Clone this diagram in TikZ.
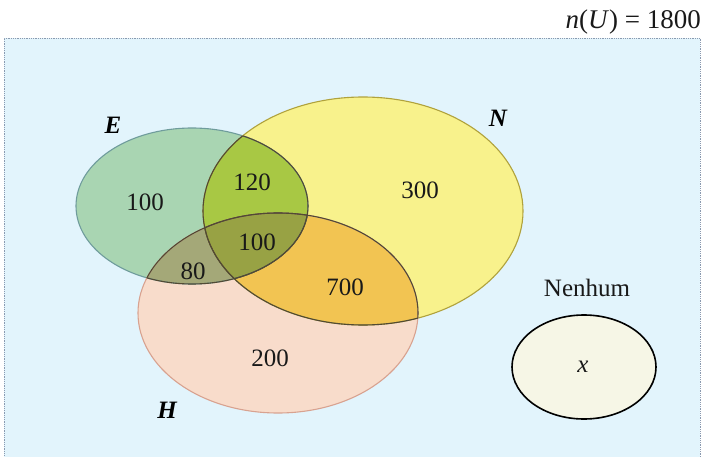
\documentclass[tikz,border=0pt]{standalone}
\usepackage{fontspec}
\setmainfont{Liberation Serif}
\usetikzlibrary{backgrounds}

% region colours
\definecolor{bgblue}{HTML}{E2F4FC}
\definecolor{frameline}{HTML}{8A9AB0}
\definecolor{efill}{HTML}{A9D5B2}
\definecolor{nfill}{HTML}{F8F28C}
\definecolor{hfill}{HTML}{F8DCCB}
\definecolor{enfill}{HTML}{A8C844}
\definecolor{ehfill}{HTML}{A4A878}
\definecolor{nhfill}{HTML}{F2C452}
\definecolor{enhfill}{HTML}{98A244}
\definecolor{eline}{HTML}{6F9C9C}
\definecolor{nline}{HTML}{B0A23C}
\definecolor{hline}{HTML}{D8A290}
\definecolor{lensline}{HTML}{524A34}
\definecolor{nonefill}{HTML}{F6F6E6}

\tikzset{
  numlabel/.style={font=\fontsize{25}{28}\selectfont, text=black!90, inner sep=0pt},
  setlabel/.style={font=\fontsize{25}{28}\selectfont\bfseries\itshape, inner sep=0pt},
  outline/.style={line width=1.1pt},
}

\def\Epath{(192,206) ellipse [x radius=116, y radius=78]}
\def\Npath{(363,211) ellipse [x radius=160, y radius=114]}
\def\Hpath{(278,313) ellipse [x radius=140, y radius=100]}

\begin{document}
\begin{tikzpicture}[x=1pt,y=-1pt]
\useasboundingbox (0,0) rectangle (704,457);
\clip (0,0) rectangle (704,457);

% universe frame
\fill[bgblue] (4,38) rectangle (700,470);
\draw[frameline, line width=0.8pt, densely dotted] (4,470) -- (4,38) -- (700,38) -- (700,470);

% single sets
\fill[efill] \Epath;
\fill[nfill] \Npath;
\fill[hfill] \Hpath;

% pairwise overlaps
\begin{scope}
  \clip \Epath;
  \fill[enfill] \Npath;
  \fill[ehfill] \Hpath;
\end{scope}
\begin{scope}
  \clip \Npath;
  \fill[nhfill] \Hpath;
\end{scope}
% triple overlap
\begin{scope}
  \clip \Epath;
  \clip \Npath;
  \fill[enhfill] \Hpath;
\end{scope}

% set outlines
\draw[eline, outline] \Epath;
\draw[nline, outline] \Npath;
\draw[hline, outline] \Hpath;

% darker arcs inside the overlaps
\begin{scope}
  \clip \Epath;
  \draw[lensline, outline] \Npath;
  \draw[lensline, outline] \Hpath;
\end{scope}
\begin{scope}
  \clip \Npath;
  \draw[lensline, outline] \Epath;
  \draw[lensline, outline] \Hpath;
\end{scope}
\begin{scope}
  \clip \Hpath;
  \draw[lensline, outline] \Epath;
  \draw[lensline, outline] \Npath;
\end{scope}

% the empty set of "none"
\draw[black, line width=1.6pt, fill=nonefill] (584,367) ellipse [x radius=72, y radius=52];

% counts
\node[numlabel] (eonly) at (145,202) {100};
\node[numlabel] (en) at (252,182) {120};
\node[numlabel] (nonly) at (420,190) {300};
\node[numlabel] (enh) at (257,242) {100};
\node[numlabel] (eh) at (193,271) {80};
\node[numlabel] (nh) at (345,287) {700};
\node[numlabel] (honly) at (270,358) {200};
\node[numlabel] (xval) at (583,367) {\textit{x}};

% set names
\node[setlabel] (lblE) at (113,125) {E};
\node[setlabel] (lblN) at (498,118) {N};
\node[setlabel] (lblH) at (167,410) {H};
\node[numlabel] (lblnone) at (587,288) {Nenhum};

% size of the universe
\node[numlabel, font=\fontsize{27}{30}\selectfont, anchor=east] (total) at (701,22) {\textit{n}(\textit{U}) = 1800};
\end{tikzpicture}
\end{document}
